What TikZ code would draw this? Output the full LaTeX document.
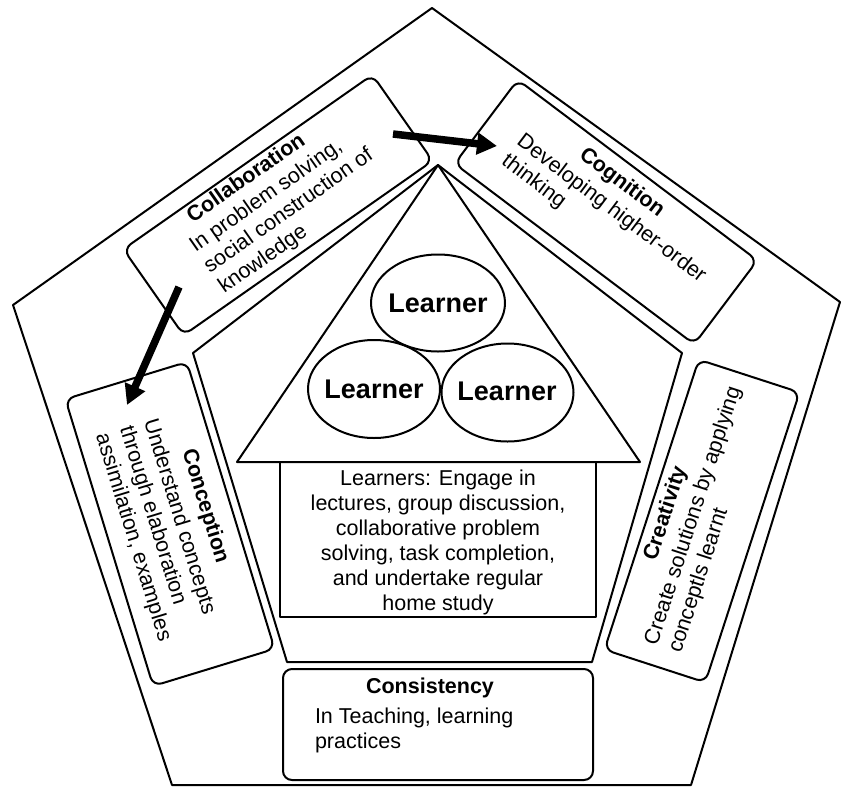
\documentclass[tikz,border=0pt]{standalone}
\usepackage{fontspec}
\setmainfont{Liberation Sans}
\usetikzlibrary{arrows.meta,shapes.geometric}
\newcommand\bfnt{\fontsize{21.5}{25}\selectfont}
\newcommand\lrnfnt{\fontsize{27}{30}\selectfont\bfseries}
\begin{document}
\begin{tikzpicture}[x=1pt,y=-1pt,line join=round,
  every node/.style={inner sep=0pt,outer sep=0pt},
  pentline/.style={draw,line width=2pt},
  boxshape/.style={draw,rectangle,rounded corners=9pt,line width=2pt},
  boxtitle/.style={anchor=base west,font=\bfnt\bfseries},
  boxbody/.style={anchor=base west,font=\bfnt},
  learnerell/.style={draw,ellipse,line width=2pt},
  learnertxt/.style={font=\lrnfnt},
  bigarrow/.style={line width=7.5pt,-{Triangle[length=20pt,width=21pt]}}]
\useasboundingbox (0,0) rectangle (842,787);
\fill[white] (0,0) rectangle (842,787);
% outer pentagon
\draw[pentline] (432,8) -- (840,302) -- (691,785) -- (172,785) -- (13,305) -- cycle;
% inner pentagon
\draw[pentline] (438,165) -- (682,353) -- (592,662) -- (287,662) -- (193,353) -- cycle;
% house roof
\draw[pentline] (438,165) -- (640,462) -- (237,462) -- cycle;
% house body
\node[draw,line width=2pt,minimum width=316pt,minimum height=155pt] (house) at (438,539.5) {};
\node[font=\bfnt,anchor=base] (housetxt) at (438,485) {\begin{tabular}[t]{@{}c@{}}Learners: Engage in\\lectures, group discussion,\\collaborative problem\\solving, task completion,\\and undertake regular\\home study\end{tabular}};
% learners
\node[learnerell,minimum width=134pt,minimum height=97pt] (lrnA) at (438,303) {};
\node[learnertxt] (lrnAt) at (lrnA) {Learner};
\node[learnerell,minimum width=132pt,minimum height=98pt] (lrnB) at (374,389) {};
\node[learnertxt] (lrnBt) at (lrnB) {Learner};
\node[learnerell,minimum width=132pt,minimum height=98pt] (lrnC) at (507.5,392.5) {};
\node[learnertxt] (lrnCt) at (507,391) {Learner};
% Collaboration
\begin{scope}[shift={(278,205)},rotate=35,transform shape]
  \node[boxshape,minimum width=304pt,minimum height=105pt] (collab) at (0,0) {};
  \node[boxtitle] (collabT) at (-80,-34) {Collaboration};
  \node[boxbody] (collabB) at (-95,-8) {\begin{tabular}[t]{@{}l@{}}In problem solving,\\social construction of\\knowledge\end{tabular}};
\end{scope}
% Cognition
\begin{scope}[shift={(606,212)},rotate=-37,transform shape]
  \node[boxshape,minimum width=300pt,minimum height=105pt] (cogn) at (0,0) {};
  \node[boxtitle] (cognT) at (-55,-27) {Cognition};
  \node[boxbody] (cognB) at (-113,0) {\begin{tabular}[t]{@{}l@{}}Developing higher-order\\thinking\end{tabular}};
\end{scope}
% Conception
\begin{scope}[shift={(170,524)},rotate=-73,transform shape]
  \node[boxshape,minimum width=300pt,minimum height=127pt] (concep) at (0,0) {};
  \node[boxtitle] (concepT) at (-66,-33) {Conception};
  \node[boxbody] (concepB) at (-106,-5) {\begin{tabular}[t]{@{}l@{}}Understand concepts\\through elaboration\\assimilation, examples\end{tabular}};
\end{scope}
% Creativity
\begin{scope}[shift={(702,521)},rotate=72,transform shape]
  \node[boxshape,minimum width=305pt,minimum height=106pt] (creat) at (0,0) {};
  \node[boxtitle] (creatT) at (-53,-31) {Creativity};
  \node[boxbody] (creatB) at (-133,-4) {\begin{tabular}[t]{@{}l@{}}Create solutions by applying\\conceptls learnt\end{tabular}};
\end{scope}
% Consistency
\node[boxshape,minimum width=310pt,minimum height=111pt] (consis) at (438,724.5) {};
\node[font=\bfnt\bfseries,anchor=base] (consisT) at (430,693) {Consistency};
\node[boxbody] (consisB) at (315,723) {\begin{tabular}[t]{@{}l@{}}In Teaching, learning\\practices\end{tabular}};
% arrows
\coordinate (arAs) at (393,134);
\coordinate (arAe) at (497,146);
\coordinate (arBs) at (179,287);
\coordinate (arBe) at (127,405);
\draw[bigarrow] (arAs) -- (arAe);
\draw[bigarrow] (arBs) -- (arBe);
\end{tikzpicture}
\end{document}
